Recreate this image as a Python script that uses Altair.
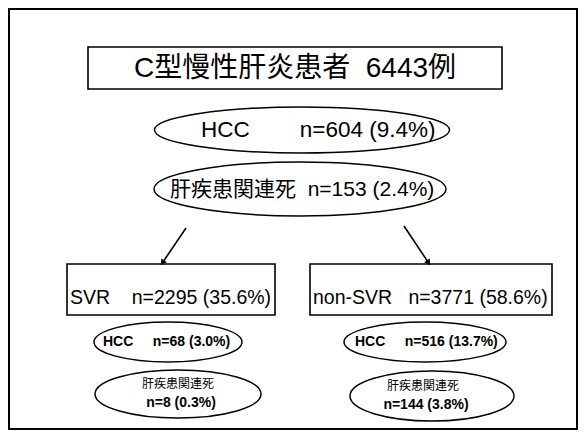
import altair as alt
import pandas as pd

NB = "\u00a0"

# ---- content ----
title_label = "C型慢性肝炎患者" + NB * 2 + "6443例"
top_labels = ["HCC" + NB * 8 + "n=604 (9.4%)", "肝疾患関連死" + NB * 2 + "n=153 (2.4%)"]
group_labels = ["SVR" + NB * 4 + "n=2295 (35.6%)", "non-SVR" + NB * 3 + "n=3771 (58.6%)"]
sub_hcc_labels = ["HCC" + NB * 5 + "n=68 (3.0%)", "HCC" + NB * 5 + "n=516 (13.7%)"]
sub_death_head = ["肝疾患関連死", "肝疾患関連死"]
sub_death_vals = ["n=8 (0.3%)", "n=144 (3.8%)"]

# ---- layout (reference pixel space) ----
frame = dict(x=9, x2=577, y=9, y2=429)
title_box = dict(x=88, x2=502, y=47, y2=89)
title_pos = (295, 69)
top_ell_cx = [302, 300]
top_ell_cy = [130, 189]
top_ell_w = [295, 292]
top_ell_h = [46, 54]
top_text_x = [201, 170]
top_text_y = [130, 190]
group_box_x = [67, 310]
group_box_x2 = [275, 552]
group_box_y = [264, 264]
group_box_y2 = [315, 315]
group_text_x = [70, 313]
group_text_y = [298, 298]
sub_hcc_cx = [168, 425]
sub_hcc_cy = [342, 342]
sub_hcc_w = [148, 162]
sub_hcc_h = [40, 40]
sub_hcc_text_x = [103, 355]
sub_death_cx = [178, 432]
sub_death_cy = [394, 396]
sub_death_w = [166, 164]
sub_death_h = [48, 50]
sub_death_text_x = [178, 423]
arrow_x = [186, 404]
arrow_y = [228, 226]
arrow_x2 = [163, 428]
arrow_y2 = [262, 262]
arrow_angle = [213, 147]

FONT = "Liberation Sans, Arial, Noto Sans CJK JP"


def ellipse_path(w, h):
    k = 0.5523
    r = h / w
    return (f"M-1,0C-1,{-k*r:.4f},{-k},{-r:.4f},0,{-r:.4f}"
            f"C{k},{-r:.4f},1,{-k*r:.4f},1,0"
            f"C1,{k*r:.4f},{k},{r:.4f},0,{r:.4f}"
            f"C{-k},{r:.4f},-1,{k*r:.4f},-1,0Z")


xs = alt.Scale(domain=[8, 578], nice=False, zero=False)
ys = alt.Scale(domain=[8, 430], nice=False, zero=False, reverse=True)

def X(f):
    return alt.X(f, type="quantitative", scale=xs, axis=None)

def Y(f):
    return alt.Y(f, type="quantitative", scale=ys, axis=None)

# rectangles
rects = pd.DataFrame({
    "x": [frame["x"], title_box["x"]] + group_box_x,
    "x2": [frame["x2"], title_box["x2"]] + group_box_x2,
    "y": [frame["y"], title_box["y"]] + group_box_y,
    "y2": [frame["y2"], title_box["y2"]] + group_box_y2,
    "sw": [2.0, 1.6, 1.6, 1.6],
})
rect_layer = alt.Chart(rects).mark_rect(fillOpacity=0, stroke="black").encode(
    x=X("x"), x2="x2", y=Y("y"), y2="y2",
    strokeWidth=alt.StrokeWidth("sw:Q", scale=None),
)

# ellipses
ecx = top_ell_cx + sub_hcc_cx + sub_death_cx
ecy = top_ell_cy + sub_hcc_cy + sub_death_cy
ew = top_ell_w + sub_hcc_w + sub_death_w
eh = top_ell_h + sub_hcc_h + sub_death_h
ells = pd.DataFrame({
    "x": ecx, "y": ecy,
    "shape": [ellipse_path(w, h) for w, h in zip(ew, eh)],
    "size": [w * w for w in ew],
})
ell_layer = alt.Chart(ells).mark_point(filled=False, stroke="black", strokeWidth=1.5, opacity=1).encode(
    x=X("x"), y=Y("y"),
    shape=alt.Shape("shape:N", scale=None),
    size=alt.Size("size:Q", scale=None),
)

# arrows
arr = pd.DataFrame({"x": arrow_x, "y": arrow_y, "x2": arrow_x2, "y2": arrow_y2, "angle": arrow_angle})
arrow_line = alt.Chart(arr).mark_rule(stroke="black", strokeWidth=1.6).encode(
    x=X("x"), y=Y("y"), x2="x2", y2="y2")
arrow_head = alt.Chart(arr).mark_point(shape="triangle", filled=True, color="black", size=45, opacity=1).encode(
    x=X("x2"), y=Y("y2"), angle=alt.Angle("angle:Q", scale=None))

# texts
title_df = pd.DataFrame({"x": [title_pos[0]], "y": [title_pos[1]], "t": [title_label]})
title_layer = alt.Chart(title_df).mark_text(font=FONT, fontSize=28, color="black", baseline="middle", align="center").encode(
    x=X("x"), y=Y("y"), text="t:N")

top_txt = pd.DataFrame({"x": top_text_x, "y": top_text_y, "t": top_labels, "fs": [22.5, 21]})
top_layer = alt.Chart(top_txt).mark_text(font=FONT, color="black", baseline="middle", align="left").encode(
    x=X("x"), y=Y("y"), text="t:N", size=alt.Size("fs:Q", scale=None))

group_txt = pd.DataFrame({"x": group_text_x, "y": group_text_y, "t": group_labels})
group_layer = alt.Chart(group_txt).mark_text(font=FONT, fontSize=19.5, color="black", baseline="middle", align="left").encode(
    x=X("x"), y=Y("y"), text="t:N")

hcc_txt = pd.DataFrame({"x": sub_hcc_text_x, "y": sub_hcc_cy, "t": sub_hcc_labels})
hcc_layer = alt.Chart(hcc_txt).mark_text(font=FONT, fontSize=14, fontWeight="bold", color="black", baseline="middle", align="left").encode(
    x=X("x"), y=Y("y"), text="t:N")

death_head = pd.DataFrame({"x": sub_death_text_x, "y": [c - 10 for c in sub_death_cy], "t": sub_death_head})
death_head_layer = alt.Chart(death_head).mark_text(font=FONT, fontSize=12, color="black", baseline="middle", align="center").encode(
    x=X("x"), y=Y("y"), text="t:N")
death_val = pd.DataFrame({"x": [v + 3 for v in sub_death_text_x], "y": [c + 9 for c in sub_death_cy], "t": sub_death_vals})
death_val_layer = alt.Chart(death_val).mark_text(font=FONT, fontSize=14, fontWeight="bold", color="black", baseline="middle", align="center").encode(
    x=X("x"), y=Y("y"), text="t:N")

chart = alt.layer(
    rect_layer, ell_layer, arrow_line, arrow_head,
    title_layer, top_layer, group_layer, hcc_layer, death_head_layer, death_val_layer,
).properties(
    width=570, height=422,
    autosize=alt.AutoSizeParams(type="none"),
    padding=0,
).configure_view(stroke=None)

chart.save("out.html", embed_options={"renderer": "svg", "actions": False})
